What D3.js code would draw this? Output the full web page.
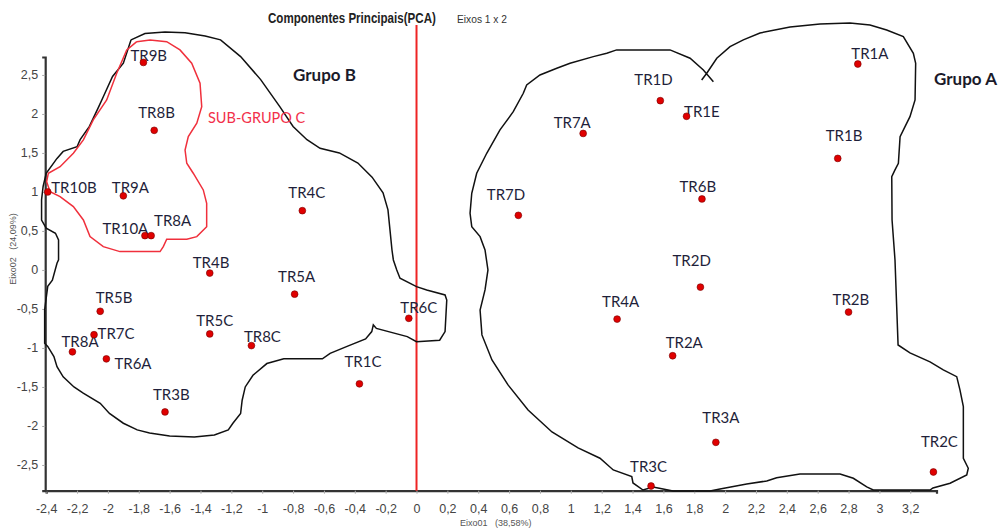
<!DOCTYPE html>
<html>
<head>
<meta charset="utf-8">
<script src="https://cdn.jsdelivr.net/npm/d3@7"></script>
<style>
  html, body { margin: 0; padding: 0; background: #fff; }
  svg { display: block; }
  .narrow { font-family: "Liberation Sans Narrow", "Arial Narrow", "Liberation Sans", Arial, sans-serif; }
  .lbl { font-family: Lato, "Open Sans", sans-serif; }
</style>
</head>
<body>
<svg id="chart" width="1007" height="528"></svg>
<script>
// PCA scores on axes 1 x 2
const names = ["TR9B","TR8B","TR10B","TR9A","TR10A","TR8A","TR4C","TR4B","TR5A","TR5B","TR5C","TR7C","TR8A","TR8C","TR6A","TR3B","TR1C","TR6C",
               "TR1D","TR1E","TR7A","TR7D","TR6B","TR2D","TR4A","TR2B","TR2A","TR3A","TR3C","TR2C","TR1A","TR1B"];
const eixo1 = [-1.77,-1.70,-2.39,-1.90,-1.76,-1.72,-0.74,-1.34,-0.79,-2.05,-1.34,-2.09,-2.23,-1.07,-2.01,-1.63,-0.37,-0.05,
               1.58,1.75,1.08,0.66,1.85,1.84,1.30,2.80,1.66,1.94,1.52,3.35,2.86,2.73];
const eixo2 = [2.66,1.79,1.00,0.95,0.44,0.44,0.76,-0.04,-0.31,-0.53,-0.82,-0.83,-1.05,-0.97,-1.14,-1.82,-1.46,-0.62,
               2.17,1.97,1.75,0.70,0.91,-0.22,-0.63,-0.54,-1.10,-2.21,-2.77,-2.59,2.64,1.43];

// label placement relative to each point (pixels: text start, baseline)
const labelOffsets = [[-13,-1],[-16,-12.5],[3.5,1.5],[-11.5,-2.5],[-42.5,-2],[3,-10],[-14,-13],[-17,-5],[-16.5,-12.5],[-4.5,-8],
                      [-13.5,-7.5],[3.5,4.5],[-11,-5],[-7.5,-3.5],[8,10],[-12,-11.5],[-15,-17],[-8.5,-5.5],
                      [-26,-15.5],[-2.5,0.5],[-29.5,-5.5],[-31.5,-15.5],[-22.5,-7],[-28,-21],[-15,-12.5],[-16,-7],
                      [-7,-7.5],[-13.5,-19],[-21,-14.5],[-12.5,-25],[-6.5,-5.5],[-12,-17]];

const xTicks = [-2.4,-2.2,-2,-1.8,-1.6,-1.4,-1.2,-1,-0.8,-0.6,-0.4,-0.2,0,0.2,0.4,0.6,0.8,1,1.2,1.4,1.6,1.8,2,2.2,2.4,2.6,2.8,3,3.2];
const yTicks = [2.5,2,1.5,1,0.5,0,-0.5,-1,-1.5,-2,-2.5];

// hand-drawn group outlines, in axis units
const grupoB = [[-1.85,2.95],[-1.90,2.65],[-1.97,2.48],[-2.03,2.22],[-2.06,2.09],[-2.12,1.84],[-2.18,1.67],[-2.20,1.58],[-2.29,1.52],
  [-2.33,1.43],[-2.40,1.24],[-2.42,1.07],[-2.43,0.90],[-2.43,0.64],[-2.40,0.535],[-2.34,0.47],[-2.32,0.385],[-2.32,0.13],[-2.33,0.086],
  [-2.36,-0.13],[-2.39,-0.21],[-2.41,-0.51],[-2.41,-0.94],[-2.39,-0.98],[-2.35,-1.11],[-2.33,-1.24],[-2.29,-1.37],[-2.22,-1.50],
  [-2.16,-1.58],[-2.05,-1.71],[-1.99,-1.84],[-1.90,-1.965],[-1.81,-2.05],[-1.73,-2.09],[-1.60,-2.13],[-1.44,-2.14],[-1.31,-2.115],
  [-1.22,-2.05],[-1.19,-1.965],[-1.14,-1.84],[-1.13,-1.67],[-1.11,-1.50],[-1.06,-1.35],[-0.97,-1.20],[-0.86,-1.14],[-0.61,-1.14],
  [-0.56,-1.07],[-0.45,-0.98],[-0.33,-0.885],[-0.29,-0.79],[-0.28,-0.705],[-0.26,-0.75],[-0.06,-0.855],[0.00,-0.92],[0.15,-0.90],
  [0.185,-0.79],[0.196,-0.385],[0.185,-0.32],[0.066,-0.256],[0.00,-0.214],[-0.107,-0.106],[-0.128,0],[-0.15,0.128],[-0.159,0.256],
  [-0.172,0.513],[-0.185,0.77],[-0.217,0.99],[-0.288,1.19],[-0.38,1.37],[-0.50,1.50],[-0.625,1.56],[-0.71,1.67],[-0.80,1.84],
  [-0.885,2.09],[-1.01,2.44],[-1.14,2.735],[-1.27,2.95],[-1.37,3.00],[-1.50,3.04],[-1.63,3.05],[-1.76,3.03],[-1.85,2.95]];

const grupoA = [[1.924,2.414],[1.859,2.564],[1.773,2.714],[1.643,2.821],[1.297,2.821],[1.233,2.778],[1.146,2.735],[0.995,2.65],
  [0.909,2.586],[0.80,2.50],[0.714,2.372],[0.692,2.265],[0.627,2.029],[0.541,1.795],[0.455,1.496],[0.39,1.24],[0.358,0.983],
  [0.347,0.727],[0.358,0.555],[0.412,0.427],[0.444,0.256],[0.463,0],[0.444,-0.256],[0.412,-0.513],[0.424,-0.833],[0.489,-1.154],
  [0.593,-1.474],[0.723,-1.795],[0.878,-2.077],[1.047,-2.282],[1.189,-2.414],[1.275,-2.564],[1.395,-2.65],[1.403,-2.731],
  [1.468,-2.821],[1.533,-2.782],[1.598,-2.808],[1.662,-2.833],[1.902,-2.833],[1.967,-2.808],[2.14,-2.744],[2.27,-2.705],
  [2.334,-2.663],[2.485,-2.615],[2.745,-2.615],[2.831,-2.671],[2.918,-2.782],[2.96,-2.821],[3.328,-2.821],[3.347,-2.795],
  [3.458,-2.735],[3.566,-2.628],[3.576,-2.542],[3.544,-2.414],[3.544,-1.753],[3.522,-1.538],[3.501,-1.368],[3.414,-1.282],
  [3.328,-1.179],[3.198,-1.064],[3.121,-0.962],[3.112,-0.471],[3.101,0.128],[3.082,0.641],[3.08,1.196],[3.101,1.282],
  [3.123,1.368],[3.134,1.709],[3.166,1.837],[3.198,1.965],[3.231,2.179],[3.235,2.65],[3.22,2.778],[3.155,2.991],[3.047,3.077],
  [2.939,3.141],[2.809,3.167],[2.615,3.154],[2.421,3.115],[2.226,3.038],[2.118,2.949],[2.032,2.863],[1.946,2.714],[1.881,2.522],
  [1.848,2.436]];

const subGrupoC = [[-1.813,2.927],[-1.727,2.949],[-1.619,2.927],[-1.533,2.821],[-1.457,2.65],[-1.403,2.394],[-1.392,2.094],
  [-1.424,1.881],[-1.479,1.709],[-1.50,1.538],[-1.489,1.368],[-1.447,1.24],[-1.382,1.026],[-1.36,0.855],[-1.36,0.555],
  [-1.424,0.427],[-1.489,0.394],[-1.619,0.394],[-1.641,0.299],[-1.662,0.235],[-1.922,0.235],[-2.03,0.299],[-2.116,0.427],
  [-2.159,0.641],[-2.224,0.812],[-2.31,0.94],[-2.375,1.004],[-2.397,1.132],[-2.386,1.24],[-2.31,1.324],[-2.224,1.496],
  [-2.159,1.667],[-2.095,1.923],[-2.008,2.179],[-1.943,2.522],[-1.878,2.821],[-1.813,2.927]];

const svg = d3.select("#chart");
const x = d3.scaleLinear().domain([-2.4, 3.37]).range([46.2, 936.5]);
const y = d3.scaleLinear().domain([-2.83, 2.73]).range([490.7, 57]);
const fmt = v => String(+v.toFixed(1)).replace(".", ",");

// axes
const xAxis = d3.axisBottom(x).tickValues(xTicks).tickFormat(fmt).tickSize(3).tickPadding(10);
const gx = svg.append("g").attr("transform", `translate(0,${y(-2.83)})`).call(xAxis);
gx.select(".domain").attr("stroke", "#333").attr("stroke-width", 2.2);
gx.selectAll(".tick line").attr("stroke", "#aaa");
gx.selectAll(".tick text").attr("class", "narrow").attr("font-size", 12.5).attr("fill", "#444");

const yAxis = d3.axisLeft(y).tickValues(yTicks).tickFormat(fmt).tickSize(3).tickPadding(4);
const gy = svg.append("g").attr("transform", `translate(${x(-2.4) - 1},0)`).call(yAxis);
gy.select(".domain").attr("stroke", "#333").attr("stroke-width", 2.2);
gy.selectAll(".tick line").attr("stroke", "#aaa");
gy.selectAll(".tick text").attr("class", "narrow").attr("font-size", 12.5).attr("fill", "#444");

// zero line of axis 1
svg.append("line")
  .attr("x1", x(0)).attr("x2", x(0))
  .attr("y1", 25).attr("y2", y(-2.83))
  .attr("stroke", "#ee2424").attr("stroke-width", 2);

// condensed title text, squeezed horizontally to a given width
function squeezed(txt, left, base, size, width, weight, color) {
  const t = svg.append("text").attr("class", "narrow")
    .attr("font-size", size).attr("font-weight", weight).attr("fill", color).text(txt);
  const w = t.node().getComputedTextLength();
  t.attr("transform", `translate(${left},${base}) scale(${width / w},1)`);
  return t;
}
squeezed("Componentes Principais(PCA)", 268, 22.5, 15, 168, "bold", "#222");
squeezed("Eixos 1 x 2", 457, 22.5, 10.5, 50, "normal", "#333");

svg.append("text").attr("class", "narrow")
  .attr("x", 460).attr("y", 525.5)
  .attr("font-size", 9).attr("fill", "#555")
  .attr("xml:space", "preserve")
  .text("Eixo01   (38,58%)");
svg.append("text").attr("class", "narrow")
  .attr("transform", "translate(15.5,249) rotate(-90)")
  .attr("text-anchor", "middle")
  .attr("font-size", 9).attr("fill", "#555")
  .attr("xml:space", "preserve")
  .text("Eixo02   (24,09%)");

// group outlines
const outline = d3.line().x(d => x(d[0])).y(d => y(d[1]));
svg.append("path").attr("d", outline(grupoB)).attr("fill", "none").attr("stroke", "#111").attr("stroke-width", 1.5);
svg.append("path").attr("d", outline(grupoA)).attr("fill", "none").attr("stroke", "#111").attr("stroke-width", 1.5);
svg.append("path").attr("d", outline(subGrupoC)).attr("fill", "none").attr("stroke", "#f0303c").attr("stroke-width", 1.5);

// group names
svg.append("text").attr("class", "lbl").attr("x", 293).attr("y", 81)
  .attr("font-size", 17).attr("font-weight", "bold").attr("fill", "#1a1a2a").text("Grupo B");
svg.append("text").attr("class", "lbl").attr("x", 934).attr("y", 85)
  .attr("font-size", 17).attr("font-weight", "bold").attr("fill", "#1a1a2a").text("Grupo A");
svg.append("text").attr("class", "lbl").attr("x", 208).attr("y", 122.5)
  .attr("font-size", 14.5).attr("fill", "#f2304a").text("SUB-GRUPO C");

// point labels and markers
const pts = names.map((n, i) => ({ n, a: eixo1[i], b: eixo2[i], o: labelOffsets[i] }));
svg.append("g").selectAll("text").data(pts).join("text")
  .attr("class", "lbl")
  .attr("x", d => x(d.a) + d.o[0])
  .attr("y", d => y(d.b) + d.o[1])
  .attr("font-size", 15).attr("fill", "#1f1f3a")
  .text(d => d.n);
svg.append("g").selectAll("circle").data(pts).join("circle")
  .attr("cx", d => x(d.a)).attr("cy", d => y(d.b)).attr("r", 3.4)
  .attr("fill", "#e00000").attr("stroke", "#700").attr("stroke-width", 0.6);
</script>
</body>
</html>
